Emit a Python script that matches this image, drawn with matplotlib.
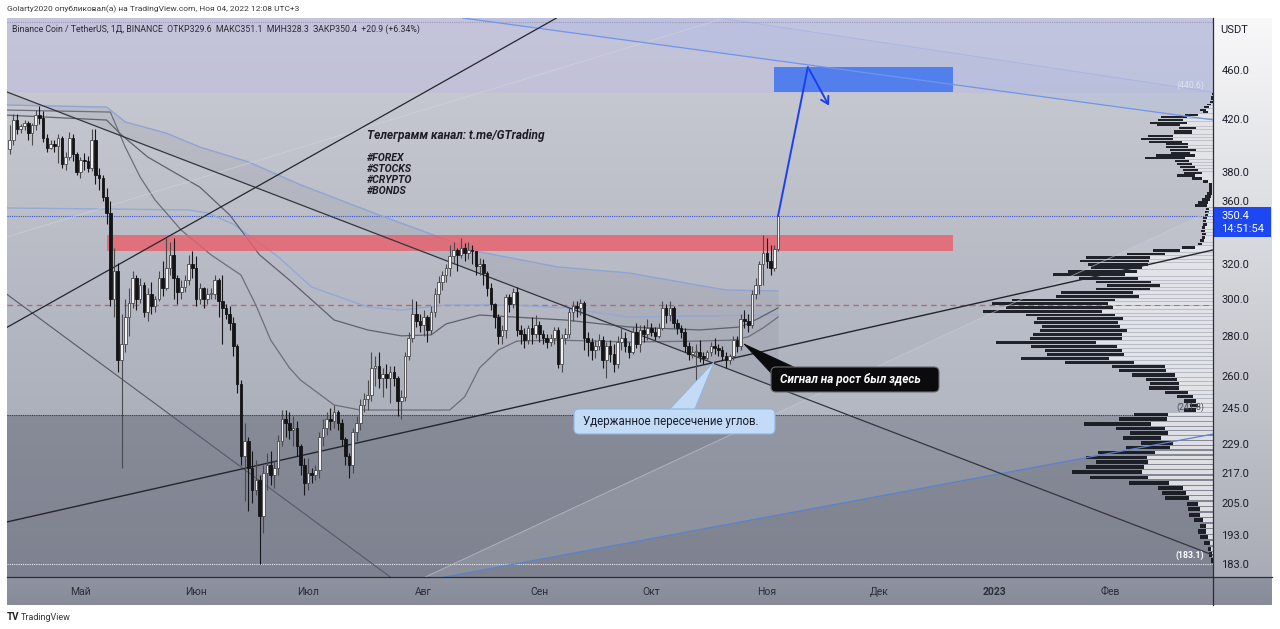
import numpy as np
import pandas as pd
import matplotlib
matplotlib.use("Agg")
import matplotlib.pyplot as plt
import matplotlib.dates as mdates
import matplotlib.transforms as mtransforms
from matplotlib.patches import Rectangle, FancyBboxPatch, Polygon

plt.rcParams['font.family'] = ['Roboto', 'DejaVu Sans']

# ---------------- DATA ----------------
dates = pd.date_range("2022-04-12", "2022-11-04", freq="D")
first_open = 397.0
closes = [
    # Apr 12-30
    404, 419, 412, 414, 417, 409, 415, 423, 421, 405, 398, 401, 399, 405, 386, 391, 405, 393, 380,
    # May
    389, 388, 383, 404, 378, 376, 363, 352, 300, 316, 268, 276, 290, 298, 312, 300, 308, 293, 303, 296,
    300, 312, 306, 318, 326, 312, 304, 307, 311, 320, 318,
    # Jun
    300, 306, 300, 303, 303, 311, 299, 295, 292, 287, 275, 256, 224, 230, 219, 210, 214, 200, 217, 220,
    216, 219, 230, 240, 238, 235, 236, 228, 220, 213,
    # Jul
    217, 216, 218, 232, 236, 240, 239, 243, 238, 231, 224, 220, 234, 238, 246, 249, 251, 264, 265, 259,
    261, 259, 262, 259, 248, 250, 270, 279, 292, 288, 286,
    # Aug
    290, 283, 293, 303, 310, 314, 318, 325, 329, 326, 330, 327, 329, 328, 319, 320, 315, 306, 297, 290,
    280, 283, 301, 297, 304, 283, 281, 278, 284, 281, 286,
    # Sep
    281, 279, 277, 279, 283, 266, 279, 281, 293, 296, 295, 298, 279, 277, 273, 275, 278, 268, 275, 271,
    266, 277, 279, 275, 272, 282, 276, 283, 281, 284,
    # Oct
    282, 280, 284, 295, 291, 295, 287, 284, 282, 275, 271, 272, 272, 270, 269, 272, 275, 274, 273, 270,
    268, 270, 278, 275, 289, 288, 286, 303, 308, 320, 327,
    # Nov 1-4
    322, 318, 329.6, 350.4,
]
highs = [
    415, 424, 424, 416, 419, 418, 417, 427, 430, 426, 408, 404, 404, 408, 407, 395, 410, 408, 395,
    391, 394, 392, 412, 412, 383, 378, 369, 360, 330, 321, 292, 300, 306, 316, 314, 312, 310, 306, 310,
    302, 316, 322, 336, 334, 336, 314, 311, 314, 326, 328,
    325, 309, 307, 306, 306, 314, 312, 314, 297, 296, 290, 276, 258, 238, 232, 226, 222, 216, 220, 225,
    226, 222, 233, 244, 244, 243, 241, 239, 229, 223,
    223, 219, 220, 234, 240, 243, 245, 246, 244, 240, 232, 225, 236, 241, 249, 252, 258, 272, 270, 272,
    264, 266, 265, 265, 260, 253, 272, 282, 300, 299, 292,
    294, 291, 296, 306, 313, 316, 320, 332, 334, 330, 336, 333, 334, 332, 328, 324, 323, 316, 309, 298,
    292, 286, 303, 303, 306, 307, 286, 284, 286, 290, 291,
    288, 283, 281, 281, 285, 285, 281, 284, 295, 299, 299, 300, 299, 282, 279, 278, 281, 280, 277, 278,
    276, 280, 284, 282, 277, 285, 287, 286, 286, 289,
    287, 285, 287, 299, 297, 299, 296, 289, 286, 284, 277, 275, 276, 278, 272, 273, 277, 279, 276, 275,
    272, 271, 280, 280, 292, 294, 292, 305, 312, 322, 338,
    336, 332, 332, 351.1,
]
lows = [
    393, 400, 408, 409, 411, 404, 400, 411, 416, 402, 395, 397, 395, 387, 383, 382, 389, 388, 378,
    376, 382, 380, 381, 372, 368, 360, 345, 296, 290, 262, 219, 272, 280, 295, 294, 298, 290, 288, 292,
    293, 299, 302, 305, 314, 300, 297, 300, 304, 308, 312,
    296, 297, 295, 297, 300, 300, 290, 276, 289, 283, 270, 252, 220, 206, 202, 205, 208, 183.1, 194, 210,
    212, 211, 216, 228, 232, 231, 228, 224, 216, 208,
    210, 213, 214, 215, 228, 233, 235, 236, 235, 228, 220, 215, 217, 230, 235, 243, 244, 248, 255, 254,
    250, 254, 247, 255, 241, 240, 248, 268, 277, 285, 282,
    280, 277, 281, 290, 298, 305, 310, 313, 320, 316, 324, 322, 323, 320, 314, 314, 308, 302, 294, 284,
    276, 276, 279, 293, 295, 280, 276, 274, 276, 276, 279,
    277, 276, 274, 275, 276, 264, 262, 276, 279, 288, 290, 291, 273, 270, 268, 269, 273, 264, 259, 267,
    262, 264, 273, 272, 269, 271, 274, 272, 277, 278,
    280, 278, 279, 283, 287, 288, 284, 281, 279, 272, 268, 269, 257, 267, 266, 268, 270, 271, 270, 268,
    264, 266, 268, 272, 273, 284, 282, 284, 300, 303, 308,
    318, 314, 316, 328.3,
]
opens = [first_open] + closes[:-1]   # 24/7 market: open = previous close

# moving averages (read at sample dates)
ma_fast_dates = ['2022-04-11', '2022-05-09', '2022-05-13', '2022-05-17', '2022-05-21', '2022-05-28',
                 '2022-06-05', '2022-06-13', '2022-06-17', '2022-06-21', '2022-06-26', '2022-06-29',
                 '2022-07-08', '2022-07-15', '2022-08-08', '2022-08-12', '2022-08-16', '2022-08-21',
                 '2022-08-26', '2022-09-06', '2022-09-25', '2022-10-14', '2022-10-23', '2022-10-27',
                 '2022-10-31', '2022-11-04']
ma_fast_vals = [426.9, 425.3, 398.4, 376.7, 360.9, 341.2, 325.8, 313.8, 296.7, 277.9, 263.9, 257.9,
                246.2, 243.9, 243.9, 250.0, 263.9, 272.8, 277.4, 277.9, 276.9, 277.4, 277.9, 279.6,
                284.3, 290.1]
ma_mid_dates = ['2022-04-11', '2022-05-08', '2022-05-12', '2022-05-19', '2022-06-02', '2022-06-10',
                '2022-06-18', '2022-06-26', '2022-07-08', '2022-07-17', '2022-07-26', '2022-08-03',
                '2022-08-07', '2022-08-16', '2022-09-08', '2022-09-25', '2022-10-14', '2022-10-25',
                '2022-10-30', '2022-11-04']
ma_mid_vals = [422.9, 419.0, 407.5, 391.1, 369.7, 351.0, 325.8, 310.9, 288.5, 283.2, 280.1, 280.6,
               286.4, 291.2, 288.5, 284.8, 283.2, 284.8, 289.6, 295.1]
ma_blue_up_dates = ['2022-04-11', '2022-05-08', '2022-05-13', '2022-05-24', '2022-06-02', '2022-06-15',
                    '2022-06-29', '2022-07-20', '2022-08-16', '2022-09-06', '2022-09-25', '2022-10-21',
                    '2022-11-04']
ma_blue_up_vals = [430.9, 429.3, 417.5, 408.9, 398.4, 387.5, 371.3, 351.0, 327.6, 318.5, 315.0,
                   305.1, 304.6]
ma_blue_lo_dates = ['2022-04-11', '2022-05-30', '2022-06-04', '2022-06-11', '2022-06-23', '2022-07-02',
                    '2022-07-17', '2022-07-26', '2022-08-07', '2022-08-25', '2022-09-08', '2022-09-25',
                    '2022-10-14', '2022-11-04']
ma_blue_lo_vals = [355.6, 354.3, 352.3, 345.0, 324.6, 306.8, 295.6, 293.9, 296.7, 296.7, 295.1, 290.1,
                   290.7, 291.2]

# trend lines: two anchor points each (date, price)
line_down = (('2022-05-08', 411.1), ('2022-11-04', 254.1))
line_support = (('2022-05-08', 206.4), ('2022-11-04', 273.8))
line_steep = (('2022-05-06', 313.5), ('2022-06-11', 361.0))
line_pale_up = (('2022-05-08', 356.5), ('2022-07-01', 399.8))
line_pale_down = (('2022-05-06', 266.6), ('2022-07-01', 200.0))
fan_pale = (('2022-11-04', 242.7), ('2023-02-01', 323.9))
fan_blue = (('2022-11-04', 200.5), ('2023-02-01', 225.0))
chan_low = (('2022-11-04', 468.0), ('2023-02-28', 419.4))
chan_up = (('2022-11-04', 498.7), ('2023-02-28', 441.7))

# levels and zones
last_price = 350.4
level_dashed = 296.7
level_mid = 241.8
range_low = 183.1
range_high = 440.6
level_top = 503.0
red_zone = ('2022-05-08', '2022-12-21', 328.2, 338.1)
blue_zone = ('2022-11-03', '2022-12-21', 441.5, 462.6)
arrow_path_dates = ['2022-11-04', '2022-11-12', '2022-11-18']
arrow_path_vals = [350.4, 462.6, 428.5]

# volume profile rows (183.1 .. 440.6)
vp_light = [0, 1, 2, 3, 5, 7, 7, 10, 13, 13, 15, 24, 27, 30, 44, 65, 71, 69, 65, 66, 58, 43, 40, 52,
            45, 48, 62, 46, 45, 17, 15, 17, 20, 25, 34, 34, 36, 38, 47, 48, 79, 104, 89, 91, 96, 117,
            91, 91, 86, 93, 95, 90, 98, 111, 100, 105, 98, 74, 80, 63, 53, 62, 75, 88, 76, 71, 65, 64,
            63, 48, 33, 18, 11, 9, 8, 7, 8, 8, 6, 7, 6, 5, 4, 4, 6, 5, 3, 2, 1, 1, 1, 1, 5, 11, 18,
            11, 15, 18, 21, 24, 28, 18, 23, 17, 25, 25, 31, 40, 40, 21, 21, 17, 33, 26, 30, 26, 15, 5,
            7, 4, 2, 0, 0, 0, 0]
vp_dark = [2, 3, 3, 6, 8, 8, 6, 9, 11, 12, 11, 24, 24, 25, 40, 58, 70, 58, 52, 61, 57, 44, 32, 38,
           38, 49, 67, 48, 34, 12, 8, 12, 16, 23, 30, 29, 31, 43, 47, 53, 69, 88, 77, 77, 86, 100,
           92, 89, 87, 78, 84, 86, 89, 119, 107, 116, 103, 83, 72, 54, 53, 55, 59, 72, 69, 51, 60, 69,
           64, 38, 27, 13, 4, 4, 3, 4, 4, 3, 4, 3, 4, 3, 4, 3, 12, 10, 8, 6, 5, 3, 3, 3, 5, 10, 18,
           18, 15, 15, 15, 14, 40, 39, 19, 26, 22, 22, 33, 32, 25, 18, 18, 17, 23, 37, 25, 26, 13, 5,
           6, 5, 4, 3, 2, 2, 1]

month_ticks = ['2022-05-01', '2022-06-01', '2022-07-01', '2022-08-01', '2022-09-01', '2022-10-01',
               '2022-11-01', '2022-12-01', '2023-01-01', '2023-02-01']
month_labels = ['Май', 'Июн', 'Июл', 'Авг', 'Сен', 'Окт', 'Ноя', 'Дек', '2023', 'Фев']
price_ticks = [183, 193, 205, 217, 229, 245, 260, 280, 300, 320, 360, 380, 420, 460]

# ---------------- LAYOUT ----------------
W, H = 1280, 629
PL, PR, PT, PB = 7, 1213, 18, 577
fig = plt.figure(figsize=(W / 100, H / 100), dpi=100, facecolor='white')

bg = fig.add_axes([0, 0, 1, 1], zorder=-5)
bg.set_xlim(0, W); bg.set_ylim(H, 0); bg.axis('off')


def vgrad(axh, x0, x1, y0, y1, c0, c1):
    c0 = np.array(matplotlib.colors.to_rgb(c0)); c1 = np.array(matplotlib.colors.to_rgb(c1))
    t = np.linspace(0, 1, 256)[:, None]
    img = (c0 * (1 - t) + c1 * t)[:, None, :]
    axh.imshow(img, extent=(x0, x1, y1, y0), origin='upper', aspect='auto', interpolation='bilinear')


vgrad(bg, PL, PR, PT, PB, '#cbcdd4', '#a0a5b2')
vgrad(bg, PR, 1272, PT, PB, '#f8f8f9', '#a9acb6')
vgrad(bg, PL, 1272, PB, 605, '#9093a0', '#878a97')
bg.set_xlim(0, W); bg.set_ylim(H, 0)

ax = fig.add_axes([PL / W, 1 - PB / H, (PR - PL) / W, (PB - PT) / H], zorder=0)
ax.patch.set_alpha(0)
ax.set_yscale('log')
ymin, ymax = 178.6, 506.9
ax.set_ylim(ymin, ymax)
xl = mdates.date2num(pd.Timestamp('2022-04-11 07:12'))
xr = mdates.date2num(pd.Timestamp('2023-02-28 14:24'))
ax.set_xlim(xl, xr)
for s in ax.spines.values():
    s.set_visible(False)

dn = lambda d: mdates.date2num(pd.Timestamp(d))


def line_at(line, t):
    (d1, p1), (d2, p2) = line
    t1, t2 = dn(d1), dn(d2)
    return np.exp(np.log(p1) + (np.asarray(t) - t1) * (np.log(p2) - np.log(p1)) / (t2 - t1))


def line_t_at(line, p):
    (d1, p1), (d2, p2) = line
    t1, t2 = dn(d1), dn(d2)
    return t1 + (np.log(p) - np.log(p1)) * (t2 - t1) / (np.log(p2) - np.log(p1))


# zones
ax.axhspan(ymin, level_mid, color='#1b1d2c', alpha=0.25, lw=0, zorder=0.5)
ax.axhspan(range_high, ymax, color='#bcb8e4', alpha=0.42, lw=0, zorder=0.5)

# top blue channel fills
tb_low = line_t_at(chan_low, ymax)
tb_up = line_t_at(chan_up, ymax)
ax.add_patch(Polygon([(tb_low, ymax), (xr, ymax), (xr, line_at(chan_low, xr))], closed=True,
                     fc='#b7cbf2', alpha=0.22, lw=0, zorder=0.8))
ax.add_patch(Polygon([(tb_low, ymax), (tb_up, ymax), (xr, line_at(chan_up, xr)), (xr, line_at(chan_low, xr))],
                     closed=True, fc='#7c90d8', alpha=0.07, lw=0, zorder=0.8))

# fan wedge fill
ax.add_patch(Polygon([(line_t_at(fan_pale, ymin), ymin), (xr, line_at(fan_pale, xr)),
                      (xr, line_at(fan_blue, xr)), (line_t_at(fan_blue, ymin), ymin)], closed=True,
                     fc='#dfe3ec', alpha=0.14, lw=0, zorder=0.8))

# shading between falling trend line and blue MA
bu_t = np.array([dn(d) for d in ma_blue_up_dates])
ax.fill_between(bu_t, ma_blue_up_vals, line_at(line_down, bu_t), color='#3b4056', alpha=0.07, lw=0, zorder=0.9)

# horizontal levels
ax.axhline(level_top, color='#9a9ab8', lw=0.8, ls=(0, (1, 1)), zorder=1)
ax.axhline(last_price, color='#3b55d6', lw=0.8, ls=(0, (1, 1)), zorder=2)
ax.axhline(level_dashed, color='#b06a78', lw=1.0, ls=(0, (4, 3)), zorder=2)
ax.axhline(level_mid, color='#3a3b48', lw=0.8, ls=(0, (1, 1)), zorder=2)
ax.axhline(range_low, color='#ececf2', lw=0.8, ls=(0, (1, 1)), zorder=2)

# moving averages
ax.plot([dn(d) for d in ma_blue_up_dates], ma_blue_up_vals, color='#8da4d4', lw=1.0, zorder=2.5)
ax.plot([dn(d) for d in ma_blue_lo_dates], ma_blue_lo_vals, color='#93a9d6', lw=1.0, zorder=2.5)
ax.plot([dn(d) for d in ma_fast_dates], ma_fast_vals, color='#6c6f7a', lw=0.9, zorder=2.5)
ax.plot([dn(d) for d in ma_mid_dates], ma_mid_vals, color='#5f626d', lw=0.9, zorder=2.5)


def axl(line, **kw):
    (d1, p1), (d2, p2) = line
    ax.axline((dn(d1), p1), (dn(d2), p2), **kw)


axl(line_pale_up, color='#d4d7df', lw=0.7, alpha=0.55, zorder=4)
axl(line_pale_down, color='#55596a', lw=0.8, zorder=4)
axl(fan_pale, color='#c9ccd5', lw=0.7, alpha=0.6, zorder=4)
axl(fan_blue, color='#5a82cf', lw=0.9, zorder=4)
axl(chan_low, color='#6f95ea', lw=0.9, zorder=4)
axl(chan_up, color='#8ea6e8', lw=0.6, alpha=0.45, zorder=4)
axl(line_down, color='#33353f', lw=0.9, zorder=4)
axl(line_support, color='#24262e', lw=1.0, zorder=4)
axl(line_steep, color='#24262e', lw=0.9, zorder=4)

# zones rectangles
ax.add_patch(Rectangle((dn(red_zone[0]), red_zone[2]), dn(red_zone[1]) - dn(red_zone[0]),
                       red_zone[3] - red_zone[2], fc='#e8606c', alpha=0.82, lw=0, zorder=3))
ax.add_patch(Rectangle((dn(blue_zone[0]), blue_zone[2]), dn(blue_zone[1]) - dn(blue_zone[0]),
                       blue_zone[3] - blue_zone[2], fc='#3f74f0', alpha=0.85, lw=0, zorder=3))

# volume profile (x in axes fraction, y in data)
blend = mtransforms.blended_transform_factory(ax.transAxes, ax.transData)
n_rows = len(vp_light)
step = (range_high - range_low) / n_rows
units = float(PR - PL)
for i in range(n_rows):
    y0 = range_low + i * step + 0.12 * step
    h = step * 0.76
    lt, dk = vp_light[i] / units, vp_dark[i] / units
    if lt > 0:
        ax.add_patch(Rectangle((1 - lt, y0), lt, h, transform=blend, fc='#e6e7eb', alpha=0.92, lw=0, zorder=3.5))
    if dk > 0:
        ax.add_patch(Rectangle((1 - lt - dk, y0), dk, h, transform=blend, fc='#15171f', alpha=0.93, lw=0, zorder=3.5))

# candles
t = mdates.date2num(dates)
o = np.array(opens, float); c = np.array(closes, float)
hi = np.array(highs, float); lo = np.array(lows, float)
up = c >= o
ax.vlines(t, lo, hi, colors=np.where(up, '#4a4a4e', '#16161a'), lw=0.8, zorder=6)
body_lo = np.minimum(o, c)
body_h = np.maximum(np.abs(c - o), 0.5)
ax.bar(t[up], body_h[up], bottom=body_lo[up], width=0.7, color='#f1f1f3', edgecolor='#4a4a4e', lw=0.6, zorder=7)
ax.bar(t[~up], body_h[~up], bottom=body_lo[~up], width=0.7, color='#141416', edgecolor='#141416', lw=0.6, zorder=7)

# blue arrow
at = [dn(d) for d in arrow_path_dates]
ax.plot(at[:2], arrow_path_vals[:2], color='#1c3ff0', lw=1.4, zorder=8, solid_capstyle='round')
ax.annotate('', xy=(at[2], arrow_path_vals[2]), xytext=(at[1], arrow_path_vals[1]),
            arrowprops=dict(arrowstyle='->,head_length=0.5,head_width=0.3', color='#1c3ff0', lw=1.4), zorder=8)

# axes ticks
ax.set_xticks([dn(d) for d in month_ticks])
ax.set_xticklabels(month_labels)
ax.tick_params(axis='x', length=0, pad=7, labelsize=7.5, labelcolor='#2a2e39')
for lab in ax.get_xticklabels():
    if lab.get_text() == '2023':
        lab.set_fontweight('bold')
ax.yaxis.tick_right()
ax.set_yticks(price_ticks)
ax.set_yticklabels([f'{p:.1f}' for p in price_ticks])
ax.yaxis.set_minor_locator(matplotlib.ticker.NullLocator())
ax.tick_params(axis='y', length=0, pad=6, labelsize=8, labelcolor='#1c1f2a')

# ---------------- OVERLAY (pixel coords) ----------------
ov = fig.add_axes([0, 0, 1, 1], zorder=5)
ov.set_xlim(0, W); ov.set_ylim(H, 0); ov.axis('off'); ov.patch.set_alpha(0)

ov.plot([PR, PR], [PT, 605], color='#2a2d38', lw=0.9)
ov.plot([PL, 1272], [PB, PB], color='#2a2d38', lw=0.9)

ov.text(7, 9, 'Golarty2020 опубликовал(а) на TradingView.com, Ноя 04, 2022 12:08 UTC+3',
        fontsize=6.0, color='#3a3a3f', va='center', ha='left')
ov.text(12, 29, 'Binance Coin / TetherUS, 1Д, BINANCE  ОТКР329.6  МАКС351.1  МИН328.3  ЗАКР350.4  +20.9 (+6.34%)',
        fontsize=6.3, color='#2a2b35', va='center', ha='left')
ov.text(1220, 30, 'USDT', fontsize=8, color='#1c1f2a', va='center', ha='left')

ov.text(367, 135, 'Телеграмм канал: t.me/GTrading', fontsize=8.6, fontweight='bold', style='italic',
        color='#1c1c28', va='center', ha='left')
for yy, tag in zip([158, 169, 180, 191], ['#FOREX', '#STOCKS', '#CRYPTO', '#BONDS']):
    ov.text(367, yy, tag, fontsize=7.6, fontweight='bold', style='italic', color='#1c1c28',
            va='center', ha='left')

ov.text(1176, 85, '(440.6)', fontsize=6.3, color='#dde1f3', va='center', ha='left')
ov.text(1176, 407, '(241.8)', fontsize=6.3, color='#4a4d58', va='center', ha='left')
ov.text(1176, 555, '(183.1)', fontsize=6.3, color='white', fontweight='bold', va='center', ha='left')

# price label
ov.add_patch(Rectangle((PR + 1, 207), 57, 30, fc='#1d47f2', lw=0))
ov.text(1221, 216, '350.4', fontsize=8, color='white', va='center', ha='left')
ov.text(1221, 229, '14:51:54', fontsize=8, color='white', va='center', ha='left')

# callout: light blue
ov.add_patch(Polygon([(668, 411), (694, 411), (714, 362)], closed=True, fc='#c3dbf6', ec='#8db6e6', lw=0.6))
ov.add_patch(FancyBboxPatch((574, 409), 201, 25, boxstyle='round,pad=0,rounding_size=5',
                            fc='#c3dbf6', ec='#8db6e6', lw=0.8))
ov.text(583, 422, 'Удержанное пересечение углов.', fontsize=8.3, color='#1a1d2a', va='center', ha='left')

# callout: black
ov.add_patch(Polygon([(772, 374), (798, 369), (744, 344)], closed=True, fc='#0b0b0d', ec='#0b0b0d', lw=0.6))
ov.add_patch(FancyBboxPatch((771, 367), 168, 25, boxstyle='round,pad=0,rounding_size=5',
                            fc='#0b0b0d', ec='#6a6a70', lw=0.8))
ov.text(780, 380, 'Сигнал на рост был здесь', fontsize=8.5, color='white', fontweight='bold',
        style='italic', va='center', ha='left')

# footer
ov.text(7, 617, 'TV', fontsize=7, fontweight='bold', color='#222', va='center', ha='left')
ov.text(21, 617, 'TradingView', fontsize=6.5, color='#333', va='center', ha='left')

fig.savefig('out.png', dpi=100, facecolor='white')
